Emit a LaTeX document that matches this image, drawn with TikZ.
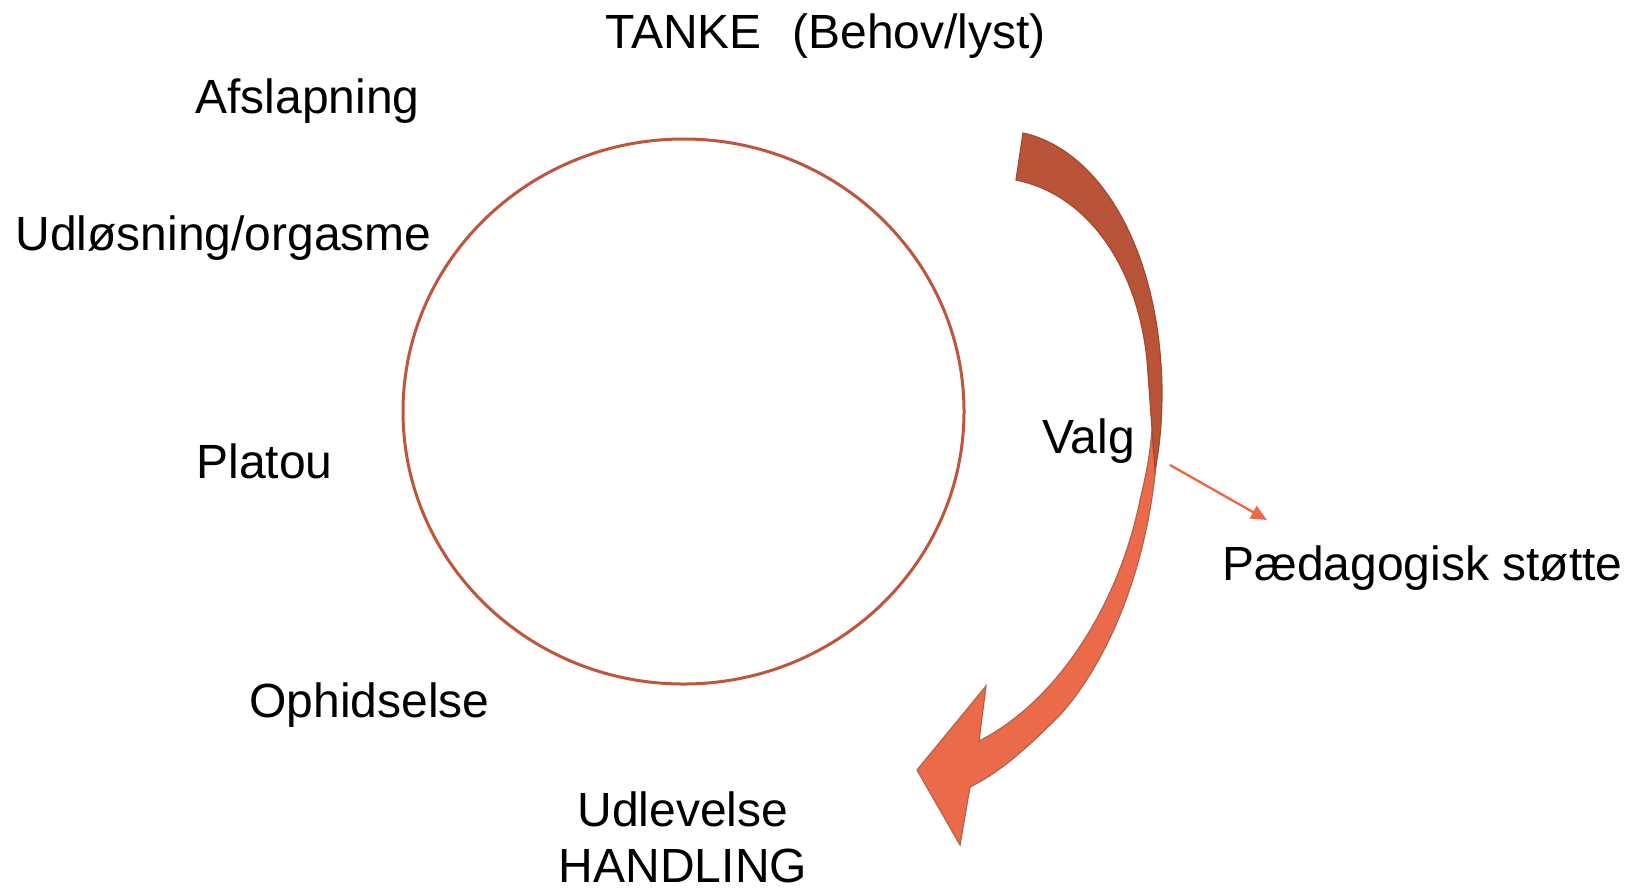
\documentclass[tikz,border=0pt]{standalone}
\usepackage{fontspec}
\setmainfont{Liberation Sans}
\usetikzlibrary{arrows.meta}
\definecolor{rust}{HTML}{BA5439}
\definecolor{rustdark}{HTML}{A4472F}
\definecolor{coral}{HTML}{EA6A4A}
\definecolor{circ}{HTML}{BF553A}
\begin{document}
\begin{tikzpicture}[x=0.5pt,y=-0.5pt,
  lbl/.style={inner sep=0pt, anchor=base west, font=\fontsize{24}{28}\selectfont},
  clbl/.style={inner sep=0pt, anchor=base, font=\fontsize{24}{28}\selectfont},
  bigarrow/.style={line width=0.6pt, line join=miter},
  smallarrow/.style={draw=coral, line width=1.2pt, -{Triangle[length=8pt,width=7pt]}}
]
\useasboundingbox (0,0) rectangle (1641,890);
\fill[white] (0,0) rectangle (1641,890);

% cycle circle
\draw[circ, line width=1.5pt] (683.5,411.5) ellipse [x radius=140.25pt, y radius=136.25pt];

% big curved arrow: lower (light) part
\filldraw[bigarrow, fill=coral, draw=rustdark!85]
  (1158,430) .. controls (1155,540) and (1118,650) .. (1060,715)
  .. controls (1025,750) and (1000,772) .. (970,787)
  -- (960,845) -- (917,770) -- (986,686) -- (979,741)
  .. controls (1060,700) and (1120,600) .. (1140,500)
  .. controls (1146,475) and (1150,455) .. (1152,430) -- cycle;
% big curved arrow: upper (dark) part
\filldraw[bigarrow, fill=rust, draw=rustdark]
  (1023,133) .. controls (1100,150) and (1160,250) .. (1162,390)
  .. controls (1162,420) and (1160,445) .. (1155,470)
  .. controls (1152,430) and (1150,400) .. (1147,360)
  .. controls (1138,270) and (1090,195) .. (1016,180) -- cycle;

% labels
\node[lbl] (tanke) at (605,48) {TANKE};
\node[lbl] (behov) at (792,48) {(Behov/lyst)};
\node[lbl] (afsl) at (195,113) {Afslapning};
\node[lbl] (udl) at (15,250) {Udløsning/orgasme};
\node[lbl] (plat) at (196,478) {Platou};
\node[lbl] (ophid) at (249,717) {Ophidselse};
\node[clbl] (udlev) at (683,826) {Udlevelse};
\node[clbl] (handl) at (683,882) {HANDLING};
\node[lbl] (valg) at (1042,453) {Valg};
\node[lbl] (paed) at (1222,580) {Pædagogisk støtte};

% small arrow
\coordinate (sa) at (1170,465);
\coordinate (sb) at (1267,520);
\draw[smallarrow] (sa) -- (sb);
\end{tikzpicture}
\end{document}
